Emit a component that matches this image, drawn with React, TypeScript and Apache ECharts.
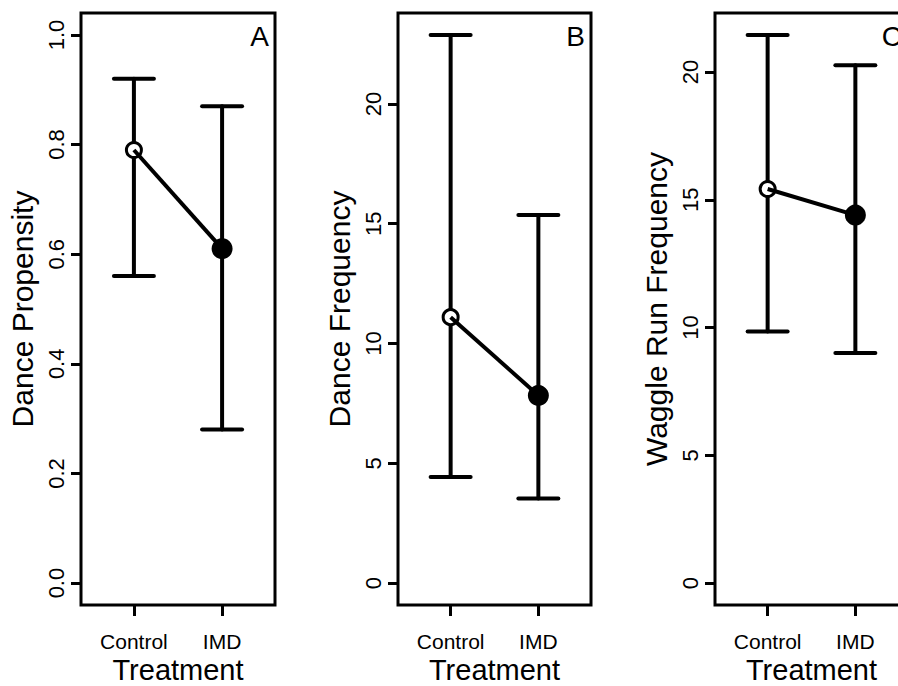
import React, { useEffect, useRef } from "react";
import * as echarts from "echarts";

const categories = ["Control", "IMD"];
const xPositions = [1, 2];

const propMean = [0.79, 0.61];
const propLower = [0.56, 0.28];
const propUpper = [0.92, 0.87];
const propTicks = [0, 0.2, 0.4, 0.6, 0.8, 1.0];
const propRange = [0, 1.0];

const freqMean = [11.1, 7.83];
const freqLower = [4.43, 3.53];
const freqUpper = [22.88, 15.36];
const freqTicks = [0, 5, 10, 15, 20];
const freqRange = [0, 22.88];

const waggleMean = [15.42, 14.4];
const waggleLower = [9.84, 9.0];
const waggleUpper = [21.45, 20.26];
const waggleTicks = [0, 5, 10, 15, 20];
const waggleRange = [0, 21.45];

const panelLetters = ["A", "B", "C"];
const yTitles = ["Dance Propensity", "Dance Frequency", "Waggle Run Frequency"];
const xTitle = "Treatment";

const FONT = "'Liberation Sans', Arial, Helvetica, sans-serif";

export default function App() {
  const ref = useRef<HTMLDivElement>(null);

  useEffect(() => {
    if (!ref.current) return;
    const chart = echarts.init(ref.current, undefined, { renderer: "svg" });

    const panels = [
      { mean: propMean, lower: propLower, upper: propUpper, ticks: propTicks, range: propRange, digits: 1 },
      { mean: freqMean, lower: freqLower, upper: freqUpper, ticks: freqTicks, range: freqRange, digits: 0 },
      { mean: waggleMean, lower: waggleLower, upper: waggleUpper, ticks: waggleTicks, range: waggleRange, digits: 0 },
    ];

    const gridLefts = [81, 398, 715];
    const gridWidths = [194, 193, 193];

    const grids = panels.map((_, i) => ({
      left: gridLefts[i],
      top: 13,
      width: gridWidths[i],
      height: 592,
      show: true,
      borderColor: "#000",
      borderWidth: 3,
      backgroundColor: "transparent",
      containLabel: false,
      outerBoundsMode: "none",
    }));

    const xAxes = panels.map((_, i) => ({
      type: "value",
      gridIndex: i,
      position: "bottom",
      min: 0.4,
      max: 2.6,
      splitLine: { show: false },
      axisLine: { show: false, onZero: false },
      axisTick: {
        show: true,
        length: 11,
        lineStyle: { color: "#000", width: 3 },
        customValues: xPositions,
      },
      axisLabel: {
        show: true,
        margin: 26,
        fontSize: 21,
        lineHeight: 21,
        fontFamily: FONT,
        color: "#000",
        customValues: xPositions,
        formatter: (v: number) => categories[Math.round(v) - 1] ?? "",
      },
      name: xTitle,
      nameLocation: "middle",
      nameMoveOverlap: false,
      nameGap: 51,
      nameTextStyle: { fontSize: 29, lineHeight: 28, fontFamily: FONT, color: "#000" },
    }));

    const yAxes = panels.map((p, i) => {
      const pad = 0.04 * (p.range[1] - p.range[0]);
      return {
        type: "value",
        gridIndex: i,
        position: "left",
        min: p.range[0] - pad,
        max: p.range[1] + pad,
        splitLine: { show: false },
        axisLine: { show: false, onZero: false },
        axisTick: {
          show: true,
          length: 10,
          lineStyle: { color: "#000", width: 3 },
          customValues: p.ticks,
        },
        axisLabel: {
          show: true,
          rotate: 90,
          margin: 14,
          fontSize: 22,
          fontFamily: FONT,
          color: "#000",
          customValues: p.ticks,
          formatter: (v: number) => v.toFixed(p.digits),
        },
        name: yTitles[i],
        nameLocation: "middle",
        nameRotate: 90,
        nameGap: 44,
        nameTextStyle: { fontSize: 30, fontFamily: FONT, color: "#000" },
      };
    });

    const series: any[] = [];
    panels.forEach((p, i) => {
      series.push({
        type: "custom",
        xAxisIndex: i,
        yAxisIndex: i,
        z: 1,
        clip: false,
        data: xPositions.map((x, k) => [x, p.lower[k], p.upper[k]]),
        renderItem: (_params: any, api: any) => {
          const x = api.value(0);
          const lo = api.coord([x, api.value(1)]);
          const hi = api.coord([x, api.value(2)]);
          const hw = 20;
          const style = { stroke: "#000", lineWidth: 4, lineCap: "round" };
          return {
            type: "group",
            children: [
              { type: "line", shape: { x1: lo[0], y1: lo[1], x2: hi[0], y2: hi[1] }, style },
              { type: "line", shape: { x1: lo[0] - hw, y1: lo[1], x2: lo[0] + hw, y2: lo[1] }, style },
              { type: "line", shape: { x1: hi[0] - hw, y1: hi[1], x2: hi[0] + hw, y2: hi[1] }, style },
            ],
          };
        },
      });
      series.push({
        type: "scatter",
        xAxisIndex: i,
        yAxisIndex: i,
        z: 2,
        data: [[xPositions[0], p.mean[0]]],
        symbol: "circle",
        symbolSize: 15,
        itemStyle: { color: "#fff", borderColor: "#000", borderWidth: 3, opacity: 1 },
      });
      series.push({
        type: "line",
        xAxisIndex: i,
        yAxisIndex: i,
        z: 3,
        data: xPositions.map((x, k) => [x, p.mean[k]]),
        showSymbol: false,
        symbol: "none",
        lineStyle: { color: "#000", width: 4 },
      });
      series.push({
        type: "scatter",
        xAxisIndex: i,
        yAxisIndex: i,
        z: 4,
        data: [[xPositions[1], p.mean[1]]],
        symbol: "circle",
        symbolSize: 21,
        itemStyle: { color: "#000", opacity: 1 },
      });
    });

    const graphic = panelLetters.map((t, i) => ({
      type: "text",
      x: gridLefts[i] + gridWidths[i] - 6,
      y: 22,
      style: {
        text: t,
        fontSize: 28,
        fontFamily: FONT,
        fill: "#000",
        align: "right",
        verticalAlign: "top",
      },
    }));

    chart.setOption({
      animation: false,
      backgroundColor: "#fff",
      grid: grids,
      xAxis: xAxes,
      yAxis: yAxes,
      series,
      graphic,
    });

    return () => chart.dispose();
  }, []);

  return (
    <div
      ref={ref}
      style={{ position: "absolute", left: 0, top: 0, width: 898, height: 686 }}
    />
  );
}
